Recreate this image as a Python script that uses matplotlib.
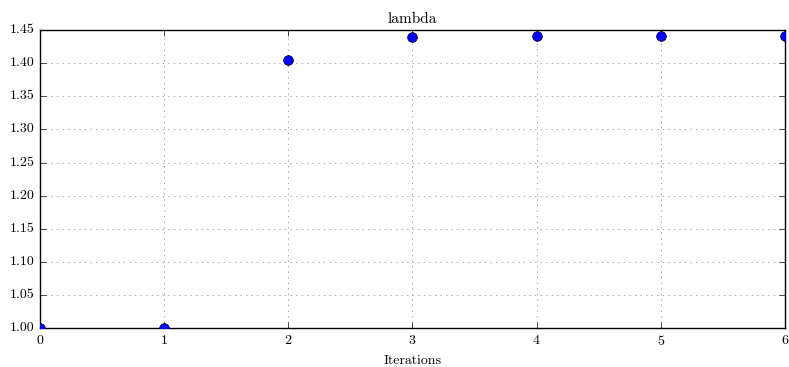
import numpy as np
import matplotlib
matplotlib.use("Agg")
import matplotlib.pyplot as plt

plt.style.use("classic")
plt.rcParams["font.family"] = "serif"
plt.rcParams["font.serif"] = ["cmr10", "DejaVu Serif"]
plt.rcParams["mathtext.fontset"] = "cm"
plt.rcParams["axes.formatter.use_mathtext"] = True
plt.rcParams["axes.unicode_minus"] = False

# lambda value after each iteration
iterations = [0, 1, 2, 3, 4, 5, 6]
lam = [1.000, 1.000, 1.405, 1.439, 1.441, 1.441, 1.441]

fig = plt.figure(figsize=(7.89, 3.67), dpi=100, facecolor="white")
ax = fig.add_axes([0.0507, 0.106, 0.944, 0.812])
ax.set_axisbelow(True)
ax.plot(iterations, lam, "bo", markersize=7, markeredgecolor="k",
        markeredgewidth=0.5, zorder=3)
ax.set_xlim(0, 6)
ax.set_ylim(1.0, 1.45)
ax.set_yticks(np.arange(1.0, 1.4501, 0.05))
ax.set_yticklabels(["%.2f" % v for v in np.arange(1.0, 1.4501, 0.05)])
ax.grid(True, linestyle=":", color="0.5")
for s in ax.spines.values():
    s.set_zorder(2.5)
ax.tick_params(labelsize=10)
ax.set_title("lambda", fontsize=11)
ax.set_xlabel("Iterations", fontsize=10)
fig.savefig("out.png", dpi=100, facecolor="white")
